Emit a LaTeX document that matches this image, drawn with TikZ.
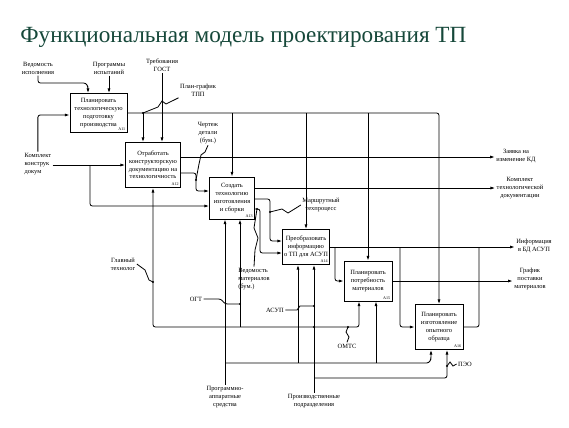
\documentclass[tikz,border=0pt]{standalone}
\usepackage{fontspec}
\setmainfont{Liberation Serif}
\usetikzlibrary{arrows,shapes,positioning,fit,arrows.meta,backgrounds,calc}
\definecolor{titlegreen}{RGB}{22,72,58}

\begin{document}
\begin{tikzpicture}[x=0.3mm,y=-0.3mm,line width=0.7pt,
    >={Latex[length=4pt,width=2.6pt]},
    func/.style={draw,fill=white,align=center,inner sep=1pt,font=\fontsize{5.5}{6.6}\selectfont},
    lbl/.style={align=center,inner sep=1pt,font=\fontsize{5.5}{6.8}\selectfont},
    num/.style={anchor=south east,inner sep=1.5pt,font=\fontsize{3.5}{4}\selectfont},
    wire/.style={rounded corners=2pt}]
        \path[fill=white] (0,0) rectangle (569,427);
        \node[anchor=base west,inner sep=0,text=titlegreen,font=\fontsize{19.8}{24}\selectfont] (title) at (20,42) {Функциональная модель проектирования ТП};

        % Function blocks
        \node[func,minimum width=17.1mm,minimum height=11.7mm] (a11) at (98.5,113) {Планировать\\технологическую\\подготовку\\производства};
        \node[func,minimum width=16.5mm,minimum height=13.5mm] (a12) at (153,165) {Отработать\\конструкторскую\\документацию на\\технологичность};
        \node[func,minimum width=13.5mm,minimum height=12.6mm] (a13) at (232,198) {Создать\\технологию\\изготовления\\и сборки};
        \node[func,minimum width=14.1mm,minimum height=10.5mm] (a14) at (306,247) {Преобразовать\\информацию\\о ТП для АСУП};
        \node[func,minimum width=14.4mm,minimum height=12mm] (a15) at (368,281) {Планировать\\потребность\\материалов};
        \node[func,minimum width=14.4mm,minimum height=13.5mm] (a16) at (439,327) {Планировать\\изготовление\\опытного\\образца};
        \node[num] (n11) at (a11.south east) {A11};
        \node[num] (n12) at (a12.south east) {A12};
        \node[num] (n13) at (a13.south east) {A13};
        \node[num] (n14) at (a14.south east) {A14};
        \node[num] (n15) at (a15.south east) {A15};
        \node[num] (n16) at (a16.south east) {A16};

        % Labels
        \node[lbl] (vedisp) at (38,68) {Ведомость\\исполнения};
        \node[lbl] (progisp) at (109,68) {Программы\\испытаний};
        \node[lbl] (gost) at (162,65) {Требования\\ГОСТ};
        \node[lbl] (plangr) at (198,90) {План-график\\ТПП};
        \node[lbl] (chert) at (208,133) {Чертеж\\детали\\(бум.)};
        \node[lbl,align=left,anchor=west] (komkd) at (23,164) {Комплект\\конструк\\докум};
        \node[lbl] (zayav) at (516,156) {Заявка на\\изменение КД};
        \node[lbl] (komtd) at (520,188) {Комплект\\технологической\\документации};
        \node[lbl] (marsh) at (321,205) {Маршрутный\\техпроцесс};
        \node[lbl] (infbd) at (534,246) {Информация\\в БД АСУП};
        \node[lbl] (grafik) at (530,279) {График\\поставки\\материалов};
        \node[lbl] (glavt) at (123,264) {Главный\\технолог};
        \node[lbl,align=left] (vedmat) at (254,279) {Ведомость\\материалов\\(бум.)};
        \node[lbl] (ogt) at (196,299) {ОГТ};
        \node[lbl] (asup) at (275,310) {АСУП};
        \node[lbl] (omts) at (347,346) {ОМТС};
        \node[lbl] (peo) at (465,364) {ПЭО};
        \node[lbl] (prap) at (225,397) {Программно-\\аппаратные\\средства};
        \node[lbl] (prpod) at (314,401) {Производственные\\подразделения};

        % Controls from above
        \draw[wire,->] (vedisp.south) |- (86,83) -- (88,87) -- (88,0 |- a11.north);
        \draw[->] (progisp.south) -- (progisp.south |- a11.north);
        \draw[->] (gost.south) -- (gost.south |- a12.north);
        \draw[wire,->] (a11.east) -| (a16.north);
        \draw[->] (143,113) -- (143,0 |- a12.north);
        \draw[->] (a13.north |- a11.east) -- (a13.north);
        \draw[->] (a14.north |- a11.east) -- (a14.north);
        \draw[->] (a15.north |- a11.east) -- (a15.north);
        \draw (plangr.south west) -- (166,104) -- (162,101) -- (158,107) -- (143,113);
        \fill (143,113) circle (1pt);

        % Inputs and outputs
        \draw[->] (komkd.east |- a12.west) -- (a12.west);
        \draw[wire,->] (komkd.north) |- (a11.west |- 0,115);
        \draw[wire,->] (90,165) |- (a13.west |- 0,206);
        \draw[->] (a12.east |- 0,157) -- (zayav.west |- 0,157);
        \draw[wire,->] (a12.east |- 0,173) -- (196,173) -- (196,191) -- (a13.west |- 0,191);
        \draw (chert.south) -- (205,152) -- (201,155) -- (199,164) -- (196,180);
        \fill (196,180) circle (1pt);
        \draw[->] (a13.east |- 0,188) -- (komtd.west |- 0,188);
        \draw[wire,->] (a13.east |- 0,199) -| (270,241) -- (a14.west |- 0,241);
        \draw[wire,->] (a13.east |- 0,209) -| (260,253) -- (a14.west |- 0,253);
        \draw (marsh.west) -- (288,213) -- (282,209) -- (270,212);
        \fill (270,212) circle (1pt);
        \draw (vedmat.north) -- (255,250) -- (258,238) -- (254,228) -- (257,209);
        \fill (257,209) circle (1pt);
        \draw[->] (a14.east) -- (infbd.west |- a14.east);
        \draw[wire,->] (335,247) |- (a15.west);
        \draw[wire,->] (400,247) |- (a16.west);
        \draw[wire] (a16.east) -| (479,247);
        \draw[->] (a15.east) -- (grafik.west |- a15.east);

        % Mechanisms
        \draw[wire,<->] (359,0 |- a15.south) -- (359,327) -- (153,327) -- (a12.south);
        \draw[->] (240,327) -- (240,0 |- a13.south);
        \draw (glavt.east) -- (145,270) -- (149,280) -- (153,282);
        \fill (153,282) circle (1pt);
        \draw[wire] (ogt.east) -- (221,299) -- (225,304) -- (240,304);
        \fill (240,304) circle (1pt);
        \draw (omts.north) -- (349,337) -- (346,332) -- (348,327);
        \fill (348,327) circle (1pt);
        \draw[->] (prap.north) -- (prap.north |- a13.south);
        \draw[wire,->] (225,363) -- (429,363) -- (431,359) -- (431,0 |- a16.south);
        \draw[->] (298,363) -- (298,0 |- a14.south);
        \draw[->] (376,363) -- (376,0 |- a15.south);
        \draw (asup.east) -- (297,310) -- (300,306) -- (314,306);
        \fill (314,306) circle (1pt);
        \draw[->] (prpod.north) -- (prpod.north |- a14.south);
        \draw[wire,->] (314,378) -| (447,0 |- a16.south);
        \fill (314,327) circle (1pt);
        \draw (peo.west) -- (453,366) -- (450,362) -- (447,366);
        \fill (447,366) circle (1pt);
    \end{tikzpicture}
\end{document}
